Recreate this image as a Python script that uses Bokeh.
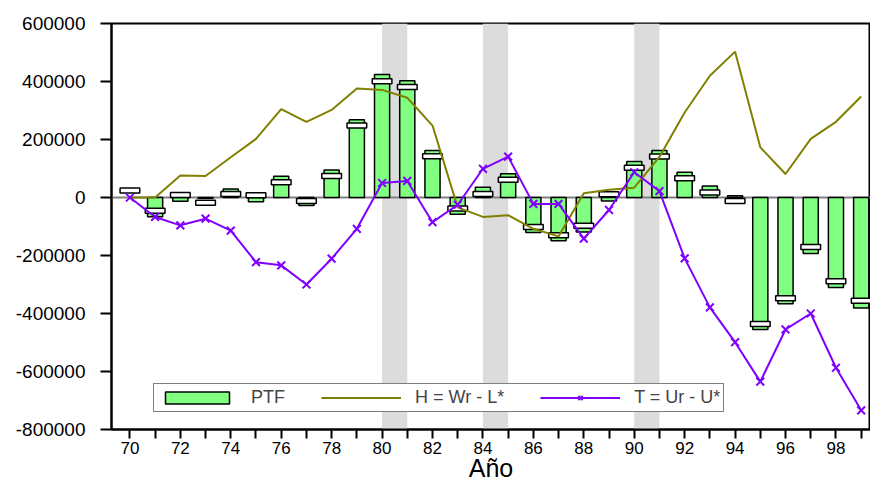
from bokeh.plotting import figure
from bokeh.models import (Range1d, FixedTicker, NumeralTickFormatter, BoxAnnotation,
                          Span, Legend, LegendItem, ColumnDataSource)
from bokeh.embed import file_html
from bokeh.resources import INLINE

years = list(range(70, 100))
tick_labels = [str(y) if y % 2 == 0 else "" for y in years]

ptf = [float("nan"), -66000, -13000, -3000, 29000, -15000, 73000, -28000, 95000, 268000,
       424000, 403000, 162000, -58000, 35000, 82000, -121000, -149000, -119000, -12000,
       124000, 162000, 87000, 40000, 6000, -455000, -366000, -193000, -310000, -381000]
fitted = [24000, -46000, 9000, -18000, 12000, 8000, 53000, -12000, 74000, 248000,
          401000, 381000, 142000, -38000, 12000, 61000, -102000, -130000, -97000, 11000,
          103000, 141000, 66000, 17000, -12000, -436000, -347000, -171000, -289000, -356000]
h_gap = [0, 0, 76000, 74000, 139000, 202000, 305000, 261000, 302000, 376000,
         371000, 344000, 248000, -34000, -67000, -61000, -108000, -134000, 15000, 27000,
         34000, 140000, 293000, 420000, 503000, 173000, 81000, 202000, 261000, 348000]
t_gap = [0, -67000, -96000, -73000, -114000, -223000, -234000, -300000, -211000, -108000,
         50000, 57000, -85000, -25000, 99000, 141000, -22000, -22000, -142000, -43000,
         87000, 22000, -210000, -379000, -499000, -635000, -455000, -400000, -587000, -734000]

shade_start = [80, 84, 90]
shade_end = [81, 85, 91]

y_ticks = [-800000, -600000, -400000, -200000, 0, 200000, 400000, 600000]

FONT = "Liberation Sans"

src = ColumnDataSource(dict(x=years, ptf=ptf, fitted=fitted, h=h_gap, t=t_gap))

p = figure(width=870, height=484, x_range=Range1d(69.27, 99.37),
           y_range=Range1d(-800000, 600000), output_backend="svg",
           toolbar_location=None, min_border_left=111, min_border_right=0,
           min_border_top=23, min_border_bottom=54)
p.grid.visible = False
p.outline_line_color = "black"
p.outline_line_width = 2
p.outline_line_alpha = 1
p.background_fill_color = "white"

for s, e in zip(shade_start, shade_end):
    p.add_layout(BoxAnnotation(left=s, right=e, fill_color="#dcdcdc", fill_alpha=1,
                               line_color=None, level="underlay"))
p.add_layout(Span(location=0, dimension="width", line_color="#808080", line_width=2,
                  level="underlay"))

bars = p.vbar(x="x", top="ptf", bottom=0, width=0.6, fill_color="#80ff80",
              line_color="black", line_width=1.5, source=src)
p.rect(x="x", y="fitted", width=0.78, height=5, height_units="screen",
       fill_color="white", line_color="black", line_width=1.5, source=src)
h_line = p.line("x", "h", line_color="#808000", line_width=2, source=src)
t_line = p.line("x", "t", line_color="#8000ff", line_width=2, source=src)
t_pts = p.scatter("x", "t", marker="x", size=11, line_color="#8000ff", line_width=2,
                  source=src)

# axes
p.xaxis.ticker = FixedTicker(ticks=years)
p.xaxis.major_label_overrides = {y: lab for y, lab in zip(years, tick_labels)}
p.yaxis.ticker = FixedTicker(ticks=y_ticks)
p.yaxis.formatter = NumeralTickFormatter(format="0")
for ax in (p.xaxis, p.yaxis):
    ax.axis_line_width = 2
    ax.axis_line_color = "black"
    ax.major_tick_line_width = 2
    ax.major_tick_line_color = "black"
    ax.major_tick_in = 0
    ax.minor_tick_line_color = None
    ax.major_label_text_font = FONT
    ax.major_label_text_color = "black"
p.xaxis.major_tick_out = 9
p.xaxis.major_label_standoff = 3
p.xaxis.major_label_text_font_size = "17px"
p.yaxis.major_tick_out = 11
p.yaxis.major_label_standoff = 15
p.yaxis.major_label_text_font_size = "19px"

p.xaxis.axis_label = "Año"
p.xaxis.axis_label_text_font = FONT
p.xaxis.axis_label_text_font_size = "25px"
p.xaxis.axis_label_text_font_style = "normal"
p.xaxis.axis_label_text_color = "black"
p.xaxis.axis_label_standoff = -3

legend = Legend(items=[LegendItem(label="PTF", renderers=[bars]),
                       LegendItem(label="H = Wr - L*", renderers=[h_line]),
                       LegendItem(label="T = Ur - U*", renderers=[t_line, t_pts])],
                orientation="horizontal", location=(42, 17), glyph_width=80,
                glyph_height=15, label_height=15, label_standoff=14, spacing=36,
                padding=3, margin=0, border_line_color="black", border_line_width=1.5,
                background_fill_color="white", background_fill_alpha=1,
                label_text_font=FONT, label_text_font_size="18px")
p.add_layout(legend)

open("out.html", "w").write(file_html(p, INLINE))
